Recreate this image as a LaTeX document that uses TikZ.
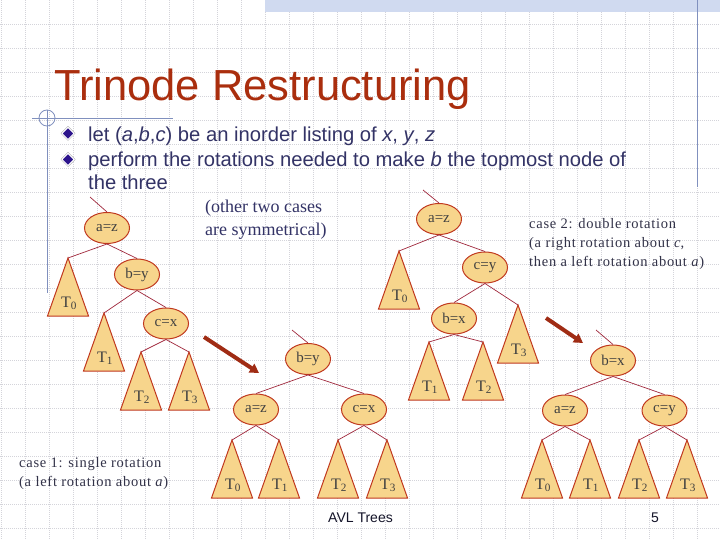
\documentclass[tikz,border=0pt]{standalone}
\usepackage{fontspec}
\setmainfont{Liberation Serif}
\newfontfamily\sansf{Liberation Sans}
\newfontfamily\serifsp[LetterSpace=5]{Liberation Serif}
\usetikzlibrary{shapes.geometric,arrows.meta}
\definecolor{titlered}{RGB}{170,46,14}
\definecolor{bodyblue}{RGB}{51,51,102}
\definecolor{bulletblue}{RGB}{44,20,140}
\definecolor{nodefill}{RGB}{247,213,140}
\definecolor{nodeline}{RGB}{192,56,30}
\definecolor{edgecol}{RGB}{160,40,60}
\definecolor{arrowcol}{RGB}{160,44,20}
\definecolor{casegrey}{RGB}{50,50,72}
\definecolor{gridcol}{RGB}{212,212,218}
\definecolor{rulecol}{RGB}{128,144,190}
\definecolor{barcol}{RGB}{208,218,240}
\tikzset{
  tnode/.style={ellipse, draw=nodeline, fill=nodefill, line width=1pt,
    minimum width=45pt, minimum height=31pt, inner sep=0pt,
    font=\fontsize{15}{15}\selectfont, text=black!75},
  edge/.style={draw=edgecol, line width=0.7pt},
  subtree/.style={draw=nodeline, fill=nodefill, line width=1pt},
  tlabel/.style={anchor=base, inner sep=0pt, font=\fontsize{16}{16}\selectfont, text=black!75},
  bigarrow/.style={draw=arrowcol, line width=4pt, -{Triangle[length=9pt,width=10pt]}},
  gridline/.style={draw=gridcol, line width=0.6pt, dash pattern=on 1pt off 1pt},
  rule/.style={draw=rulecol, line width=1pt},
  bodytext/.style={anchor=base west, inner sep=0pt, text=bodyblue, font=\sansf\fontsize{20.2}{20.2}\selectfont},
  casetext/.style={anchor=base west, inner sep=0pt, text=casegrey, font=\serifsp\fontsize{14.5}{14.5}\selectfont},
  bullet/.style={diamond, fill=bulletblue, draw=white, line width=1pt, minimum size=12.5pt, inner sep=0pt},
  bulletrim/.style={diamond, draw=black!45, line width=0.5pt, minimum size=14pt, inner sep=0pt},
}
\newcommand\subtr[4]{%
  \coordinate (#1) at (#2,#3);
  \path[subtree] (#1) -- ++(-20.5,58) -- ++(41,0) -- cycle;
  \node[tlabel] (#1l) at ([shift={(1,49)}]#1) {T\textsubscript{#4}};
}
\begin{document}
\begin{tikzpicture}[x=1pt,y=-1pt]
\useasboundingbox (0,0) rectangle (720,540);
\fill[white] (0,0) rectangle (720,540);
% grid
\foreach \k in {0,...,29} \path[gridline] ({1+24*\k},0) -- ({1+24*\k},540);
\foreach \k in {1,...,22} \path[gridline] (0,{24*\k}) -- (720,{24*\k});
% top bar and rules
\fill[barcol] (265,0) rectangle (720,12.5);
\path[rule] (697,0) -- (697,187);
\path[rule] (32,119) -- (173,119);
\path[rule] (47,110) -- (47,293);
\draw[rulecol, line width=0.8pt] (47,118) circle (8);
% title
\node[anchor=base west, inner sep=0pt, text=titlered, font=\sansf\fontsize{43.5}{43.5}\selectfont] (title) at (54,101) {Trinode Restructuring};
% bullets
\node[bulletrim] (r1) at (68,133.5) {};
\node[bullet] (b1) at (68,133.5) {};
\node[bulletrim] (r2) at (68,159.5) {};
\node[bullet] (b2) at (68,159.5) {};
\node[bodytext] (l1) at (88,142) {let (\textit{a},\textit{b},\textit{c}) be an inorder listing of \textit{x}, \textit{y}, \textit{z}};
\node[bodytext] (l2) at (88,167) {perform the rotations needed to make \textit{b} the topmost node of};
\node[bodytext] (l3) at (88,190) {the three};
% side texts
\node[anchor=base west, inner sep=0pt, text=bodyblue, font=\fontsize{18}{18}\selectfont] (o1) at (205,213) {(other two cases};
\node[anchor=base west, inner sep=0pt, text=bodyblue, font=\fontsize{18}{18}\selectfont] (o2) at (205,235.5) {are symmetrical)};
\node[casetext] (c21) at (529,229) {case 2: double rotation};
\node[casetext] (c22) at (529,247.5) {(a right rotation about \textit{c},};
\node[casetext] (c23) at (529,266) {then a left rotation about \textit{a})};
\node[casetext] (c11) at (19,467) {case 1: single rotation};
\node[casetext] (c12) at (19,486) {(a left rotation about \textit{a})};
\node[anchor=base west, inner sep=0pt, text=black!60!bodyblue, font=\sansf\fontsize{14}{14}\selectfont] (avl) at (328,522) {AVL Trees};
\node[anchor=base west, inner sep=0pt, text=black!60!bodyblue, font=\sansf\fontsize{14}{14}\selectfont] (pg) at (651,522) {5};
% ---------- tree 1
\coordinate (in1) at (90,197);
\subtr{t1a}{68}{258}{0}
\subtr{t1b}{104}{313}{1}
\subtr{t1c}{141}{352}{2}
\subtr{t1d}{189}{352}{3}
\node[tnode] (az1) at (107,228) {a=z};
\node[tnode] (by1) at (137,274.5) {b=y};
\node[tnode] (cx1) at (166,323.5) {c=x};
\path[edge] (in1) -- (az1.north);
\path[edge] (az1.south) -- (t1a);
\path[edge] (az1.south) -- (by1.north);
\path[edge] (by1.south) -- (t1b);
\path[edge] (by1.south) -- (cx1.north);
\path[edge] (cx1.south) -- (t1c);
\path[edge] (cx1.south) -- (t1d);
% ---------- tree 2
\coordinate (in2) at (292,330);
\subtr{t2a}{232}{440}{0}
\subtr{t2b}{279}{440}{1}
\subtr{t2c}{338}{440}{2}
\subtr{t2d}{387}{440}{3}
\node[tnode] (by2) at (308,359) {b=y};
\node[tnode] (az2) at (256,409.5) {a=z};
\node[tnode] (cx2) at (364,409.5) {c=x};
\path[edge] (in2) -- (by2.north);
\path[edge] (by2.south) -- (az2.north);
\path[edge] (by2.south) -- (cx2.north);
\path[edge] (az2.south) -- (t2a);
\path[edge] (az2.south) -- (t2b);
\path[edge] (cx2.south) -- (t2c);
\path[edge] (cx2.south) -- (t2d);
% ---------- tree 3
\coordinate (in3) at (423,190);
\subtr{t3a}{399}{251}{0}
\subtr{t3b}{429}{342}{1}
\subtr{t3c}{483}{342}{2}
\subtr{t3d}{518}{305}{3}
\node[tnode] (az3) at (439,219) {a=z};
\node[tnode] (cy3) at (485,267.5) {c=y};
\node[tnode] (bx3) at (454,318.5) {b=x};
\path[edge] (in3) -- (az3.north);
\path[edge] (az3.south) -- (t3a);
\path[edge] (az3.south) -- (cy3.north);
\path[edge] (cy3.south) -- (bx3.north);
\path[edge] (cy3.south) -- (t3d);
\path[edge] (bx3.south) -- (t3b);
\path[edge] (bx3.south) -- (t3c);
% ---------- tree 4
\coordinate (in4) at (596,330);
\subtr{t4a}{542}{440}{0}
\subtr{t4b}{590}{440}{1}
\subtr{t4c}{639}{440}{2}
\subtr{t4d}{687}{440}{3}
\node[tnode] (bx4) at (613,360.5) {b=x};
\node[tnode] (az4) at (565,410.5) {a=z};
\node[tnode] (cy4) at (664.5,410.5) {c=y};
\path[edge] (in4) -- (bx4.north);
\path[edge] (bx4.south) -- (az4.north);
\path[edge] (bx4.south) -- (cy4.north);
\path[edge] (az4.south) -- (t4a);
\path[edge] (az4.south) -- (t4b);
\path[edge] (cy4.south) -- (t4c);
\path[edge] (cy4.south) -- (t4d);
% arrows
\coordinate (a1s) at (204,337);
\coordinate (a1e) at (259,373);
\coordinate (a2s) at (546,318);
\coordinate (a2e) at (583,343);
\path[bigarrow] (a1s) -- (a1e);
\path[bigarrow] (a2s) -- (a2e);
\end{tikzpicture}
\end{document}
